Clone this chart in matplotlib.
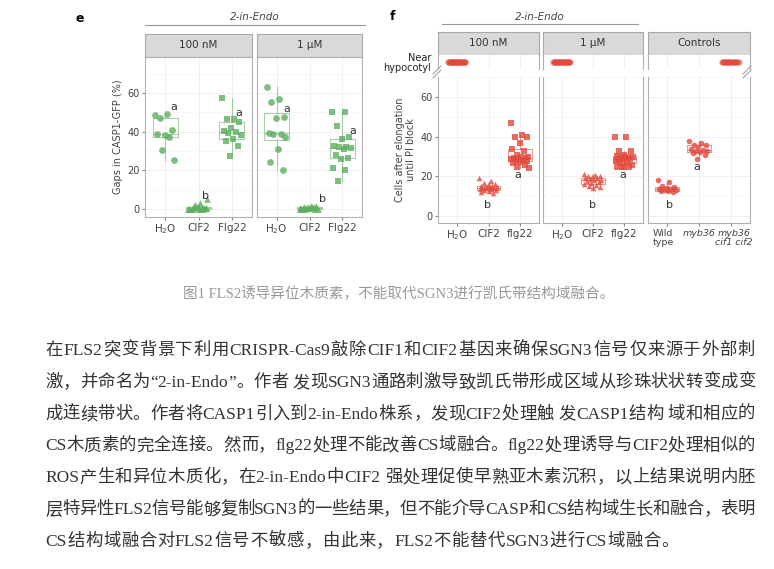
import re
import numpy as np
import matplotlib
matplotlib.use('Agg')
import matplotlib.pyplot as plt
from matplotlib.lines import Line2D
from matplotlib.transforms import ScaledTranslation

W, H = 774, 569
fig = plt.figure(figsize=(W / 100, H / 100), dpi=100)

GREEN = '#5fae62'
RED = '#e2483c'

# ---- panel e: gaps in CASP1-GFP (%) ----
e_groups = ['H$_2$O', 'CIF2', 'Flg22']
e_100_h2o = [48.5, 49, 47, 41, 38.5, 39, 37.5, 30.5, 25.5]
e_100_cif2 = [0, 0, 0.3, 0.5, 1, 0, 0.2, 2, 5, 3, 0, 0.5, 1, 0, 0.4, 1.5, 0.8, 0]
e_100_flg22 = [57.5, 46.5, 46.5, 45, 42, 40.5, 40, 39.5, 38.5, 36, 35, 32.5, 27.5]
e_1u_h2o = [63, 57, 55.5, 47.5, 47, 39.5, 39, 39, 37, 31, 24.5, 20]
e_1u_cif2 = [0, 0.5, 1, 1.5, 0.3, 0, 1.2, 0.8, 0.2, 1.5, 0.6, 0, 1, 0.4, 0.9, 0.1]
e_1u_flg22 = [50, 50, 43, 37.5, 36, 32.5, 32, 32, 31.5, 31, 28, 26.5, 26, 21, 20, 14.5]
e_letters_100 = ['a', 'b', 'a']
e_letters_1u = ['a', 'b', 'a']

# ---- panel f: cells after elongation until PI block ----
f_groups = ['H$_2$O', 'CIF2', 'flg22']
f_ctrl_groups = ['Wild\ntype', 'myb36', 'myb36\ncif1 cif2']
f_100_cif2 = [19, 17.5, 16.5, 16, 15.5, 15, 15, 14.5, 14.5, 14.5, 14, 14, 14, 13.5, 13.5, 13, 13, 12.5, 12, 11.5]
f_100_flg22 = [47, 41, 40, 40, 37, 34, 33, 31, 30, 30, 29.5, 29.5, 29, 29, 28.5, 28, 28, 27.5, 27, 26, 25, 24]
f_1u_cif2 = [21, 20.5, 20, 20, 19.5, 19, 19, 18.5, 18, 18, 17.5, 17, 16.5, 16, 15.5, 15, 14.5, 14]
f_1u_flg22 = [40, 40, 33, 33, 31, 30.5, 30, 30, 30, 29.5, 29, 29, 28.5, 28, 27.5, 27, 26, 25, 25, 25, 25]
f_wt = [18, 17, 15, 14.5, 14, 13.5, 13.5, 13, 13, 12.5, 12.5, 12]
f_myb36 = [38, 37, 36, 36, 35, 34, 33.5, 33, 33, 32.5, 32, 31, 29]
# number of roots whose block sits near the hypocotyl
f_near_100_h2o = 24
f_near_1u_h2o = 22
f_near_myb36_cif = 16
f_letters_100 = ['', 'b', 'a']
f_letters_1u = ['', 'b', 'a']
f_letters_ctrl = ['b', 'a', '']

caption = '图1 FLS2诱导异位木质素，不能取代SGN3进行凯氏带结构域融合。'
paragraph = [
    '在FLS2突变背景下利用CRISPR-Cas9敲除CIF1和CIF2基因来确保SGN3信号仅来源于外部刺',
    '激，并命名为“2-in-Endo”。作者 发现SGN3通路刺激导致凯氏带形成区域从珍珠状状转变成变',
    '成连续带状。作者将CASP1引入到2-in-Endo株系，发现CIF2处理触 发CASP1结构 域和相应的',
    'CS木质素的完全连接。然而，flg22处理不能改善CS域融合。flg22处理诱导与CIF2处理相似的',
    'ROS产生和异位木质化，在2-in-Endo中CIF2 强处理促使早熟亚木素沉积，以上结果说明内胚',
    '层特异性FLS2信号能够复制SGN3的一些结果，但不能介导CASP和CS结构域生长和融合，表明',
    'CS结构域融合对FLS2信号不敏感，由此来，FLS2不能替代SGN3进行CS域融合。',
]


def box(l, t, r, b):
    return [l / W, 1 - b / H, (r - l) / W, (b - t) / H]


def spread(n, width):
    k = np.arange(n)
    return ((k * 0.618) % 1 - 0.5) * width


def frame(ax, top=True, bottom=True):
    ax.set_facecolor('white')
    for side in ['left', 'right']:
        ax.spines[side].set_color('#b0b0b0')
        ax.spines[side].set_linewidth(0.8)
    ax.spines['top'].set_visible(top)
    ax.spines['bottom'].set_visible(bottom)
    ax.spines['top'].set_color('#b0b0b0')
    ax.spines['bottom'].set_color('#b0b0b0')
    ax.set_xlim(0.4, 3.6)
    ax.tick_params(length=2, color='#888', labelsize=7, labelcolor='#444', pad=2)


def strip(pos, label):
    s = fig.add_axes(box(*pos))
    s.set_facecolor('#d9d9d9')
    for sp in s.spines.values():
        sp.set_color('#a8a8a8')
        sp.set_linewidth(0.8)
    s.set_xticks([])
    s.set_yticks([])
    s.text(0.5, 0.5, label, ha='center', va='center', fontsize=7.5, color='#333', transform=s.transAxes)


def groups_plot(ax, data, markers, color, size):
    ax.set_yticks([0, 20, 40, 60])
    ax.set_yticks([10, 30, 50, 70], minor=True)
    ax.tick_params(which='minor', length=0)
    ax.grid(True, which='major', color='#ececec', lw=0.6)
    ax.grid(True, which='minor', axis='y', color='#f4f4f4', lw=0.4)
    ax.set_axisbelow(True)
    for i, (vals, mk) in enumerate(zip(data, markers)):
        if vals is None:
            continue
        vals = np.array(vals)
        ax.boxplot(vals, positions=[i + 1], widths=0.75, whis=1.5, showcaps=False,
                   showfliers=False, manage_ticks=False,
                   boxprops=dict(color=color, alpha=0.55, lw=0.8),
                   whiskerprops=dict(color=color, alpha=0.55, lw=0.8),
                   medianprops=dict(color=color, alpha=0.55, lw=0.8))
        ax.scatter(i + 1 + spread(len(vals), 0.6), vals, marker=mk, s=size,
                   color=color, alpha=0.8, lw=0, zorder=3)


def letters(ax, xs, ys, labels):
    for x, y, t in zip(xs, ys, labels):
        if t:
            ax.text(x, y, t, ha='center', va='center', fontsize=8, color='#333')


# ---------------- panel e ----------------
fig.text(80 / W, 1 - 18 / H, 'e', fontsize=9, fontweight='bold', ha='center', va='center')
fig.text(255 / W, 1 - 17 / H, '2-in-Endo', fontsize=7.5, style='italic', color='#444', ha='center', va='center')
fig.add_artist(Line2D([145 / W, 365 / W], [1 - 25 / H, 1 - 25 / H], color='#999', lw=0.8))

e_facets = [((145, 252), '100 nM', [e_100_h2o, e_100_cif2, e_100_flg22], e_letters_100,
             [1.27, 2.2, 3.21], [52.8, 6.7, 49.5]),
            ((257, 362), '1 µM', [e_1u_h2o, e_1u_cif2, e_1u_flg22], e_letters_1u,
             [1.31, 2.41, 3.33], [51.6, 5, 40.5])]
for k, ((l, r), lab, data, labs, lx, ly) in enumerate(e_facets):
    strip((l, 34, r, 57), lab)
    ax = fig.add_axes(box(l, 57, r, 217))
    frame(ax)
    ax.set_ylim(-4.1, 78.6)
    groups_plot(ax, data, ['o', '^', 's'], GREEN, 24)
    ax.set_xticks([1, 2, 3])
    ax.set_xticklabels(e_groups, fontsize=7.5)
    letters(ax, lx, ly, labs)
    if k == 0:
        ax.set_ylabel('Gaps in CASP1-GFP (%)', fontsize=7, color='#444', labelpad=3)
    else:
        ax.tick_params(axis='y', left=False, labelleft=False)

# ---------------- panel f ----------------
fig.text(393 / W, 1 - 17 / H, 'f', fontsize=9, fontweight='bold', ha='center', va='center')
fig.text(540 / W, 1 - 17 / H, '2-in-Endo', fontsize=7.5, style='italic', color='#444', ha='center', va='center')
fig.add_artist(Line2D([442 / W, 638 / W], [1 - 24 / H, 1 - 24 / H], color='#999', lw=0.8))

f_facets = [((438, 539), '100 nM', [None, f_100_cif2, f_100_flg22], ['o', '^', 's'],
             [f_near_100_h2o, 0, 0], f_groups, f_letters_100, [1, 1.97, 2.93], [5.9, 5.9, 20.9]),
            ((543, 643), '1 µM', [None, f_1u_cif2, f_1u_flg22], ['o', '^', 's'],
             [f_near_1u_h2o, 0, 0], f_groups, f_letters_1u, [1, 1.97, 2.96], [5.9, 5.9, 20.9]),
            ((648, 750), 'Controls', [f_wt, f_myb36, None], ['o', 'o', 'o'],
             [0, 0, f_near_myb36_cif], f_ctrl_groups, f_letters_ctrl, [1.06, 1.94, 3], [5.9, 24.6, 0])]
for k, ((l, r), lab, data, mks, near, glabs, labs, lx, ly) in enumerate(f_facets):
    strip((l, 32, r, 55), lab)
    top = fig.add_axes(box(l, 55, r, 69))
    frame(top, top=False, bottom=False)
    top.set_ylim(-1, 1)
    top.set_yticks([])
    top.set_xticks([1, 2, 3])
    top.grid(True, axis='x', color='#ececec', lw=0.6)
    top.set_axisbelow(True)
    top.tick_params(bottom=False, labelbottom=False)
    for i, n in enumerate(near):
        if n:
            top.scatter(i + 1 + spread(n, 0.55), np.zeros(n), marker='o', s=20,
                        color=RED, alpha=0.6, lw=0, zorder=3)

    ax = fig.add_axes(box(l, 77, r, 223))
    frame(ax, top=False)
    ax.set_ylim(-3.4, 67.8)
    groups_plot(ax, data, mks, RED, 16)
    ax.set_xticks([1, 2, 3])
    ax.set_xticklabels(glabs, fontsize=7.5 if k < 2 else 6.8, linespacing=1.1)
    if k == 2:
        tl = ax.get_xticklabels()
        for t in tl[1:]:
            t.set_style('italic')
        # nudge outer labels apart as in the source layout
        for t, dx in zip(tl, [-0.04, 0, 0.03]):
            t.set_transform(t.get_transform() + ScaledTranslation(dx, 0, fig.dpi_scale_trans))
    letters(ax, lx, ly, labs)
    if k == 0:
        ax.set_ylabel('Cells after elongation\nuntil PI block', fontsize=7, color='#444',
                      labelpad=3, linespacing=1.1)
    else:
        ax.tick_params(axis='y', left=False, labelleft=False)

fig.text(431 / W, 1 - 63 / H, 'Near\nhypocotyl', fontsize=7, color='#222', ha='right',
         va='center', linespacing=1.0)
# axis break marks
for bx in [437, 747]:
    for dy in [0, 4]:
        fig.add_artist(Line2D([(bx - 4) / W, (bx + 4) / W],
                              [1 - (78 - dy) / H, 1 - (70 - dy) / H], color='#999', lw=0.7))

# ---------------- caption and paragraph ----------------
text_font = ['Liberation Serif', 'Noto Sans CJK SC']
fig.text(399 / W, 1 - 294 / H, caption, fontsize=10.5, color='#999', ha='center', va='center',
         family=text_font)

renderer = fig.canvas.get_renderer()
left, right = 45, 755
for n, line in enumerate(paragraph):
    y = 351 + n * 31.8
    tokens = re.findall(r'[A-Za-z0-9\-]+| |.', line)
    items = []
    for tok in tokens:
        if tok == ' ':
            items.append((None, 4))
            continue
        t = fig.text(0, 1 - y / H, tok, fontsize=12.5, color='#333', va='center',
                     family=text_font)
        items.append((t, t.get_window_extent(renderer).width))
    total = sum(w for _, w in items)
    gap = 0.6 if n == len(paragraph) - 1 else (right - left - total) / (len(items) - 1)
    x = left
    for t, w in items:
        if t is not None:
            t.set_x(x / W)
        x += w + gap

fig.savefig('out.png', dpi=100)
